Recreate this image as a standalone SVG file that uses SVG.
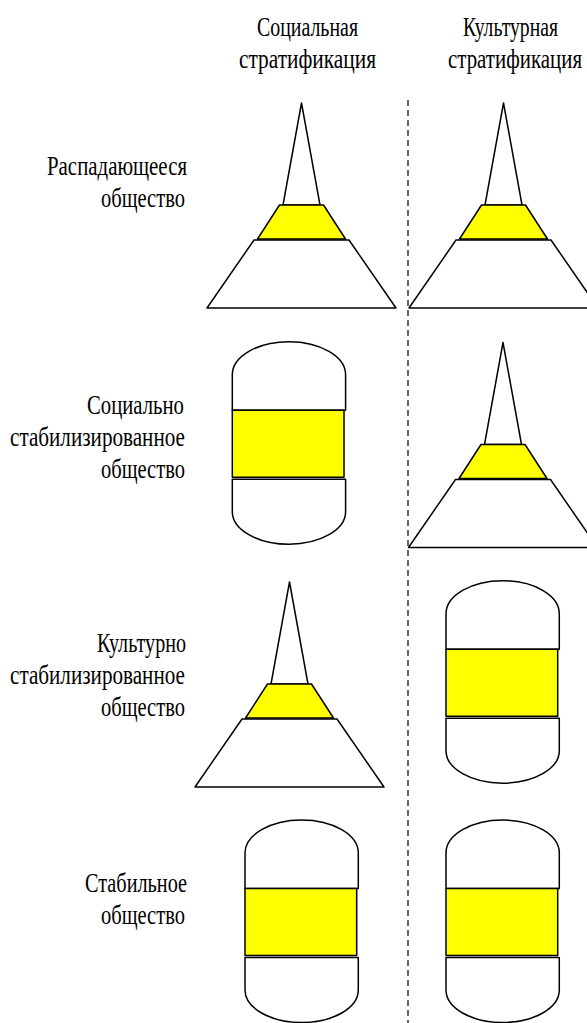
<svg xmlns="http://www.w3.org/2000/svg" xmlns:xlink="http://www.w3.org/1999/xlink" width="587" height="1023" viewBox="0 0 587 1023">
<style>
.t{font-family:"Liberation Serif","Times New Roman",serif;font-size:28px;fill:#000}
.s{fill:#fff;stroke:#000;stroke-width:1.5;stroke-linejoin:round}
.y{fill:#ffff00;stroke:#000;stroke-width:1.5;stroke-linejoin:round}
.d{fill:none;stroke:#000;stroke-width:1.2;stroke-dasharray:6 4}
</style>
<defs>
<g id="pyr">
<polygon class="s" points="0,0 18.5,102 -18.5,102"/>
<polygon class="y" points="-22,102 22,102 44,136 -44,136"/>
<polygon class="s" points="-47.5,137 47.5,137 94.5,205 -94.5,205"/>
</g>
<g id="cap">
<path class="s" d="M0,68.5 V33 A56.65,33 0 0 1 113.3,33 V68.5 Z"/>
<rect class="y" x="0" y="68.5" width="111.7" height="67"/>
<path class="s" d="M0,137.5 V170 A56.65,32.5 0 0 0 113.3,170 V137.5 Z"/>
</g>
</defs>
<rect width="587" height="1023" fill="#fff"/>
<g id="headers">
<text class="t" transform="translate(257,36) scale(0.75,1)" textLength="134.7" lengthAdjust="spacingAndGlyphs">Социальная</text>
<text class="t" transform="translate(239,68) scale(0.75,1)" textLength="182.7" lengthAdjust="spacingAndGlyphs">стратификация</text>
<text class="t" transform="translate(463,36) scale(0.75,1)" textLength="126.7" lengthAdjust="spacingAndGlyphs">Культурная</text>
<text class="t" transform="translate(448,68) scale(0.75,1)" textLength="178.7" lengthAdjust="spacingAndGlyphs">стратификация</text>
</g>
<g id="labels">
<text class="t" transform="translate(47,175) scale(0.75,1)" textLength="186.7" lengthAdjust="spacingAndGlyphs">Распадающееся</text>
<text class="t" transform="translate(101,207) scale(0.75,1)" textLength="112" lengthAdjust="spacingAndGlyphs">общество</text>
<text class="t" transform="translate(87,414) scale(0.75,1)" textLength="129.3" lengthAdjust="spacingAndGlyphs">Социально</text>
<text class="t" transform="translate(10,446) scale(0.75,1)" textLength="233.3" lengthAdjust="spacingAndGlyphs">стабилизированное</text>
<text class="t" transform="translate(101,478) scale(0.75,1)" textLength="112" lengthAdjust="spacingAndGlyphs">общество</text>
<text class="t" transform="translate(97,652) scale(0.75,1)" textLength="118.7" lengthAdjust="spacingAndGlyphs">Культурно</text>
<text class="t" transform="translate(10,684) scale(0.75,1)" textLength="233.3" lengthAdjust="spacingAndGlyphs">стабилизированное</text>
<text class="t" transform="translate(101,716) scale(0.75,1)" textLength="112" lengthAdjust="spacingAndGlyphs">общество</text>
<text class="t" transform="translate(85,892) scale(0.75,1)" textLength="136" lengthAdjust="spacingAndGlyphs">Стабильное</text>
<text class="t" transform="translate(101,924) scale(0.75,1)" textLength="112" lengthAdjust="spacingAndGlyphs">общество</text>
</g>
<g id="connectors">
<line class="d" x1="408" y1="100" x2="408" y2="1023"/>
</g>
<g id="r1-social"><use xlink:href="#pyr" href="#pyr" x="301.5" y="103"/></g>
<g id="r1-cultural"><use xlink:href="#pyr" href="#pyr" x="503.5" y="103"/></g>
<g id="r2-social"><use xlink:href="#cap" href="#cap" x="232.3" y="341.7"/></g>
<g id="r2-cultural"><use xlink:href="#pyr" href="#pyr" x="503" y="342.5"/></g>
<g id="r3-social"><use xlink:href="#pyr" href="#pyr" x="289.5" y="582"/></g>
<g id="r3-cultural"><use xlink:href="#cap" href="#cap" x="446" y="580.7"/></g>
<g id="r4-social"><use xlink:href="#cap" href="#cap" x="245" y="820"/></g>
<g id="r4-cultural"><use xlink:href="#cap" href="#cap" x="446" y="820"/></g>
</svg>
